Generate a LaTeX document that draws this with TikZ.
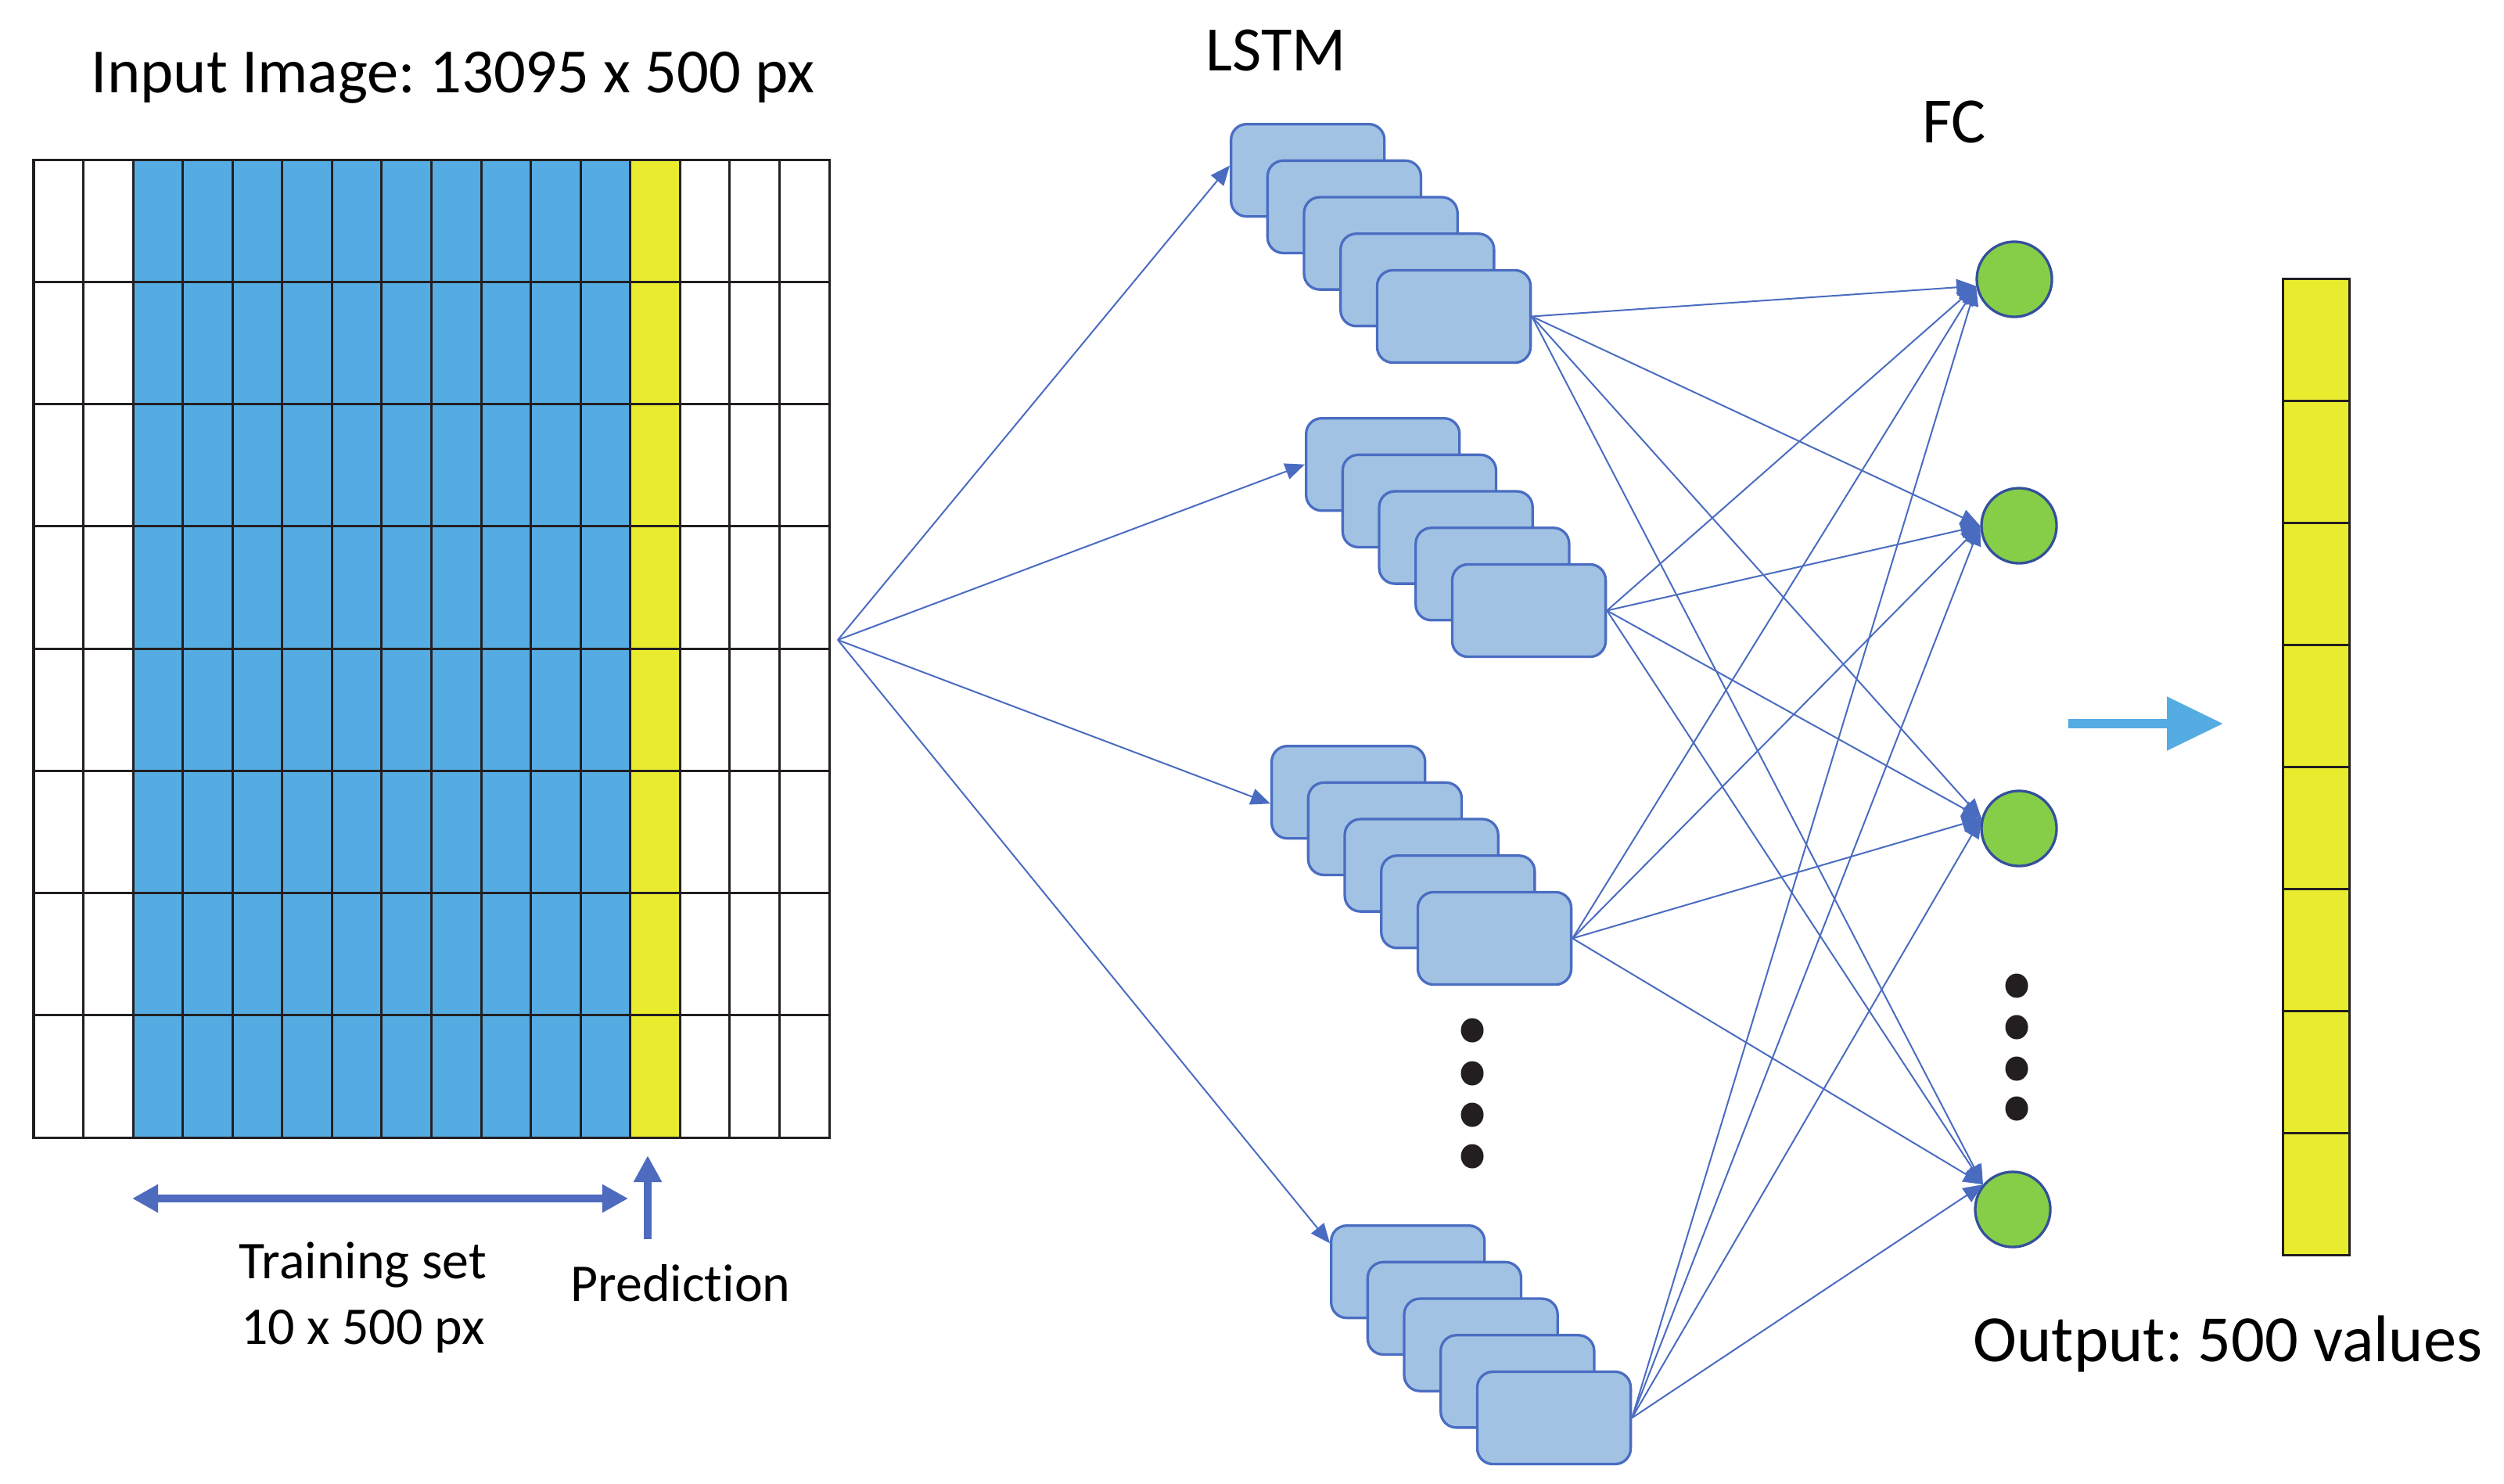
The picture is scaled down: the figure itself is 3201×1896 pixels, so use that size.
\documentclass[tikz,border=0pt]{standalone}
\usepackage{fontspec}
\setmainfont{Carlito}[Ligatures=NoCommon]
\frenchspacing
\usetikzlibrary{arrows.meta,calc,shapes.geometric}
\definecolor{gridblue}{HTML}{55ACE3}
\definecolor{gridyellow}{HTML}{E9EB2F}
\definecolor{gridline}{HTML}{231F20}
\definecolor{lstmfill}{HTML}{A2C2E4}
\definecolor{lstmedge}{HTML}{4A6DC2}
\definecolor{connc}{HTML}{4A6CC0}
\definecolor{fcgreen}{HTML}{86CE48}
\definecolor{fcedge}{HTML}{34509B}
\definecolor{arrblue}{HTML}{4E6BBE}
\begin{document}
\begin{tikzpicture}[x=0.01cm,y=-0.01cm,
  gline/.style={draw=gridline,line width=0.03cm},
  lstmbox/.style={rectangle,rounded corners=0.2cm,minimum width=1.96cm,minimum height=1.18cm,inner sep=0pt,fill=lstmfill,draw=lstmedge,line width=0.033cm},
  fcnode/.style={circle,minimum size=0.96cm,inner sep=0pt,fill=fcgreen,draw=fcedge,line width=0.033cm},
  dotnode/.style={ellipse,minimum width=0.29cm,minimum height=0.31cm,inner sep=0pt,fill=gridline},
  outcell/.style={rectangle,minimum width=0.85cm,minimum height=1.56cm,inner sep=0pt,fill=gridyellow,draw=gridline,line width=0.03cm},
  conn/.style={draw=connc,line width=0.02cm,-{Triangle[length=0.25cm,width=0.21cm]}},
  thickarr/.style={draw=arrblue,line width=0.1cm},
  lbl/.style={anchor=base,inner sep=0pt,text=black}
]
\useasboundingbox (0,0) rectangle (3201,1896);

% input grid
\foreach \c in {2,...,11}
  \fill[gridblue] ({43+\c*63.5625},204) rectangle ({43+(\c+1)*63.5625},1454);
\fill[gridyellow] ({43+12*63.5625},204) rectangle ({43+13*63.5625},1454);
\foreach \c in {1,...,15}
  \draw[gline] ({43+\c*63.5625},204) -- ({43+\c*63.5625},1454);
\foreach \r in {1,...,7}
  \draw[gline] (43,{204+\r*156.25}) -- (1060,{204+\r*156.25});
\draw[gline] (43,204) rectangle (1060,1454);

% titles
\node[lbl] (title) at (579,118) {\fontsize{22.9pt}{27pt}\selectfont Input Image: 13095 x 500 px};
\node[lbl] (lstmlbl) at (1631,90) {\fontsize{23pt}{27pt}\selectfont LSTM};
\node[lbl] (fclbl) at (2498,182) {\fontsize{23.5pt}{27pt}\selectfont FC};
\node[lbl] (outlbl) at (2848,1740) {\fontsize{24pt}{28pt}\selectfont Output: 500 values};
\node[lbl] (trlbl) at (464,1634) {\fontsize{19.3pt}{23pt}\selectfont Training set};
\node[lbl] (trlbl2) at (464,1718) {\fontsize{19.3pt}{23pt}\selectfont 10 x 500 px};
\node[lbl] (predlbl) at (870,1663) {\fontsize{19.3pt}{23pt}\selectfont Prediction};

% training / prediction arrows
\coordinate (tr1) at (169,1532);
\coordinate (tr2) at (803,1532);
\draw[thickarr,{Triangle[length=0.33cm,width=0.34cm]}-{Triangle[length=0.33cm,width=0.34cm]}] (tr1) -- (tr2);
\coordinate (pr1) at (828,1584);
\coordinate (pr2) at (828,1477);
\draw[thickarr,-{Triangle[length=0.34cm,width=0.34cm]}] (pr1) -- (pr2);

% LSTM stacks
\foreach \s/\x/\y in {1/1572/157, 2/1668/533, 3/1624/952, 4/1700/1565}{
  \foreach \k in {1,...,5}{
    \node[lstmbox,anchor=north west] (s\s-\k) at ({\x+(\k-1)*46.7},{\y+(\k-1)*46.7}) {};
  }
}
\node[dotnode] (ld1) at (1882,1317) {};
\node[dotnode] (ld2) at (1882,1372) {};
\node[dotnode] (ld3) at (1882,1425) {};
\node[dotnode] (ld4) at (1882,1478) {};

% fan from input
\coordinate (fan) at (1071,818);
\draw[conn] (fan) -- ($(s1-1.north west)!0.45!(s1-1.south west)$);
\draw[conn] (fan) -- ($(s2-1.north west)!0.5!(s2-1.south west)$);
\draw[conn] (fan) -- ($(s3-1.north west)!0.62!(s3-1.south west)$);
\draw[conn] (fan) -- ($(s4-1.north west)!0.2!(s4-1.south west)$);

% FC layer
\node[fcnode] (c1) at (2575,357) {};
\node[fcnode] (c2) at (2581,672) {};
\node[fcnode] (c3) at (2581,1059) {};
\node[fcnode] (c4) at (2573,1546) {};
\node[dotnode] (rd1) at (2578,1260) {};
\node[dotnode] (rd2) at (2578,1313) {};
\node[dotnode] (rd3) at (2578,1366) {};
\node[dotnode] (rd4) at (2578,1417) {};

\foreach \s in {1,...,4}{
  \draw[conn] (s\s-5.east) -- (c1.190);
  \draw[conn] (s\s-5.east) -- (c2.180);
  \draw[conn] (s\s-5.east) -- (c3.165);
  \draw[conn] (s\s-5.east) -- (c4.140);
}

% big arrow
\coordinate (ba1) at (2644,925);
\coordinate (ba2) at (2842,925);
\draw[draw=gridblue,line width=0.12cm,-{Triangle[length=0.72cm,width=0.66cm]}] (ba1) -- (ba2);

% output column
\foreach \r in {0,...,7}
  \node[outcell,anchor=north west] (o\r) at (2917,{355+\r*156}) {};
\end{tikzpicture}
\end{document}
